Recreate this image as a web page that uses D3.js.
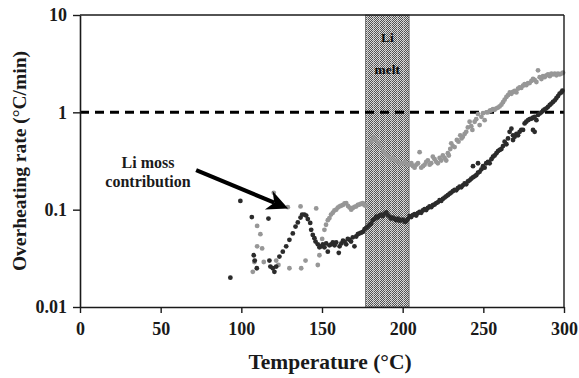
<!DOCTYPE html>
<html>
<head>
<meta charset="utf-8">
<script src="https://cdn.jsdelivr.net/npm/d3@7"></script>
<style>
  body { margin: 0; background: #fff; }
  text { font-family: "Liberation Serif", "Times New Roman", serif; font-weight: bold; fill: #1a1a1a; }
</style>
</head>
<body>
<div id="container"></div>
<script>
// tick values
var xTicks = [0, 50, 100, 150, 200, 250, 300];
var yTicks = [0.01, 0.1, 1, 10];
var yTickLabels = ["0.01", "0.1", "1", "10"];

// Li melt band (°C)
var meltRange = [177, 204];

// dark series: temperature (°C), overheating rate (°C/min)
var darkT = [93.2, 99.4, 106.5, 107.7, 108.3, 109.6, 116.8, 117.4, 118, 119.5, 120.5, 121.6,
  123.6, 125.7, 127.8, 129.8, 131.9, 133.6, 135, 136.7, 137.7, 139.1, 140.2, 141.2, 142.7, 143.3,
  144.3, 145.3, 146, 147.4, 148.4, 149.5, 150.5, 151.5, 152.6, 153.6, 154.6, 155.7, 156.7, 157.8,
  158.8, 160.4, 160.9, 162, 163, 164, 165, 166, 167, 168, 169.1, 170.1, 171.2, 172.2, 173.2, 174.3,
  175.3, 176.4, 177.4, 178.4, 179.5, 180.5, 181.5, 182.6, 183.6, 184.6, 185.7, 186.7, 187.7, 188.8,
  189.8, 190.8, 191.9, 192.9, 193.9, 195, 196, 197, 198, 199.1, 200.1, 201.2, 202.2, 203.2, 204.3,
  205.3, 206.3, 207.4, 208.4, 209.4, 210.5, 211.5, 212.5, 213.6, 214.6, 215.6, 216.7, 217.7, 218.7,
  219.8, 220.8, 221.8, 222.9, 223.9, 224.9, 226, 227, 228, 229.1, 230.1, 231.1, 232.2, 233.2, 234.2,
  235.3, 236.3, 237.3, 238.4, 239.4, 240.4, 241.5, 242.5, 243.6, 244.6, 245.6, 246.7, 247.7, 248.8,
  249.8, 250.8, 251.8, 252.9, 253.9, 255, 256, 257, 258.1, 259.1, 260.1, 261.2, 262.2, 263.2, 264.3,
  265.3, 266.3, 267.4, 268.4, 269.4, 270.5, 271.5, 272.5, 273.5, 274.6, 275.6, 276.6, 277.7, 278.7,
  279.8, 280.8, 281.8, 282.9, 283.9, 284.9, 286, 287, 288, 289.1, 290.1, 291.2, 292.2, 293.2, 294.3,
  295.3, 296.3, 297.3, 298.4, 299, 280.8, 281.8, 268.4, 243.6, 246.7];
var darkV = [0.020, 0.123, 0.084, 0.034, 0.030, 0.025, 0.081, 0.030, 0.026, 0.025, 0.023, 0.026,
  0.033, 0.037, 0.042, 0.049, 0.057, 0.067, 0.074, 0.083, 0.089, 0.089, 0.087, 0.080, 0.073, 0.062,
  0.055, 0.051, 0.047, 0.044, 0.041, 0.042, 0.044, 0.041, 0.045, 0.037, 0.043, 0.044, 0.046, 0.043,
  0.046, 0.036, 0.042, 0.045, 0.048, 0.047, 0.044, 0.050, 0.049, 0.047, 0.052, 0.042, 0.053, 0.056, 0.057, 0.058,
  0.059, 0.063, 0.065, 0.067, 0.070, 0.072, 0.078, 0.080, 0.085, 0.083, 0.087, 0.089, 0.086, 0.091,
  0.094, 0.088, 0.085, 0.081, 0.083, 0.080, 0.078, 0.081, 0.077, 0.078, 0.079, 0.075, 0.076, 0.080, 0.086,
  0.084, 0.088, 0.090, 0.087, 0.092, 0.095, 0.093, 0.098, 0.101, 0.099, 0.104, 0.108, 0.106, 0.111,
  0.113, 0.117, 0.119, 0.125, 0.123, 0.129, 0.133, 0.137, 0.141, 0.146, 0.150, 0.155, 0.160, 0.158, 0.166,
  0.172, 0.170, 0.178, 0.186, 0.182, 0.195, 0.200, 0.208, 0.215, 0.220, 0.226, 0.240, 0.245, 0.26,
  0.28, 0.27, 0.30, 0.31, 0.30, 0.33, 0.35, 0.36, 0.38, 0.40, 0.41, 0.42, 0.45, 0.50, 0.47,
  0.54, 0.63, 0.68, 0.58, 0.56, 0.60, 0.58, 0.63, 0.66, 0.66, 0.77, 0.80, 0.83, 0.85,
  0.86, 0.88, 0.90, 0.83, 0.94, 0.97, 1.00, 1.04, 1.07, 1.10, 1.14, 1.19, 1.23, 1.28, 1.33,
  1.40, 1.47, 1.56, 1.60, 1.67, 0.66, 0.63, 0.52, 0.28, 0.30];

// gray series
var grayT = [107.1, 108.1, 109.8, 109.8, 111.8, 112.9, 113.9, 120.1, 121.6, 123, 128.8, 129.8,
  136.7, 137.1, 139.8, 146.4, 147.4, 148.4, 150.1, 151.5, 152.5, 153.6, 154.6, 155.6, 156.7, 157.7,
  158.8, 159.8, 160.9, 161.9, 163, 164, 165, 166.1, 167.1, 168.1, 169.1, 170.2, 171.2, 172.2, 173.3,
  174.3, 175.3, 176.3, 177.4, 179, 180.5, 182, 183.5, 185, 186.5, 188, 189.5, 191, 192.5, 194, 195.5,
  197, 198.5, 200.2, 201.5, 203, 204.3, 205.4, 206.4, 207.4, 208.5, 209.5, 210.5, 211.5, 212.6, 213.6,
  214.6, 215.6, 216.7, 217.7, 218.7, 219.8, 220.8, 221.8, 222.9, 223.9, 224.9, 226, 227, 228, 228.6,
  229.5, 230.1, 231.1, 232.2, 233.6, 234.6, 235.7, 236.5, 237.3, 238.4, 239.4, 240.4, 241.5, 242.5,
  243.2, 244.6, 245.6, 246.7, 247.7, 248.8, 249.8, 250.8, 251.9, 252.9, 254, 255, 256, 257, 258.1,
  259.1, 260.1, 261.2, 262.2, 263.2, 264.3, 265.3, 266.4, 267.4, 268.4, 269.4, 270.5, 271.5, 272.5,
  273.5, 274.6, 275.6, 276.6, 277.7, 278.7, 279.8, 280.8, 281.8, 282.9, 283.9, 284.9, 286, 287, 288,
  289.1, 290.1, 291.2, 292.2, 293.2, 294.3, 295.3, 296.3, 297.3, 298.4, 299.4];
var grayV = [0.023, 0.029, 0.042, 0.068, 0.056, 0.040, 0.029, 0.149, 0.030, 0.027, 0.106, 0.025,
  0.108, 0.025, 0.030, 0.103, 0.027, 0.034, 0.050, 0.062, 0.070, 0.078, 0.082, 0.089, 0.093, 0.098,
  0.100, 0.105, 0.108, 0.110, 0.112, 0.116, 0.117, 0.109, 0.105, 0.100, 0.104, 0.107, 0.108, 0.112, 0.113,
  0.115, 0.117, 0.111, 0.110, 0.42, 0.50, 0.55, 0.52, 0.48, 0.45, 0.40, 0.37, 0.35, 0.33, 0.34, 0.32,
  0.31, 0.30, 0.30, 0.31, 0.29, 0.29, 0.30, 0.28, 0.27, 0.29, 0.30, 0.39, 0.27, 0.28, 0.29,
  0.31, 0.32, 0.29, 0.30, 0.35, 0.33, 0.31, 0.30, 0.34, 0.32, 0.36, 0.34, 0.32, 0.38, 0.36,
  0.42, 0.48, 0.45, 0.44, 0.52, 0.50, 0.58, 0.54, 0.56, 0.60, 0.63, 0.70, 0.80, 0.72,
  0.66, 0.80, 0.85, 0.96, 0.74, 0.90, 0.98, 0.83, 1.00, 1.00, 1.04, 1.05, 1.08, 1.06, 1.10,
  1.12, 1.15, 1.20, 1.27, 1.35, 1.44, 1.50, 1.60, 1.55, 1.62, 1.66, 1.60, 1.75, 1.80,
  1.78, 1.88, 1.95, 1.90, 2.00, 2.00, 2.10, 2.20, 2.15, 2.05, 2.70, 2.30, 2.20, 2.35, 2.30,
  2.40, 2.45, 2.35, 2.50, 2.45, 2.50, 2.40, 2.50, 2.45, 2.50, 2.55];

// annotation arrow, in data units: [tail, tip]
var arrowT = [72, 129];
var arrowV = [0.255, 0.103];

var width = 579, height = 378;
var margin = {top: 15, right: 15, bottom: 71, left: 80};
var w = width - margin.left - margin.right;
var h = height - margin.top - margin.bottom;

var x = d3.scaleLinear().domain([0, 300]).range([0, w]);
var y = d3.scaleLog().domain([0.01, 10]).range([h, 0]);

var svg = d3.select("#container").append("svg")
    .attr("width", width)
    .attr("height", height);

var defs = svg.append("defs");
var pat = defs.append("pattern")
    .attr("id", "dither")
    .attr("patternUnits", "userSpaceOnUse")
    .attr("width", 6).attr("height", 2);
pat.append("rect").attr("width", 6).attr("height", 2).attr("fill", "#dadada");
[0, 2, 4].forEach(function(i) {
    pat.append("rect").attr("x", i).attr("y", 0).attr("width", 1).attr("height", 1).attr("fill", "#525252");
    pat.append("rect").attr("x", i + 1).attr("y", 1).attr("width", 1).attr("height", 1).attr("fill", "#525252");
});
pat.append("rect").attr("x", 5).attr("y", 0).attr("width", 1).attr("height", 2).attr("fill", "#e6e6e6").attr("opacity", 0.35);

var g = svg.append("g")
    .attr("transform", "translate(" + margin.left + "," + margin.top + ")");

// melt band
g.append("rect")
    .attr("x", x(meltRange[0]))
    .attr("y", 0)
    .attr("width", x(meltRange[1]) - x(meltRange[0]))
    .attr("height", h)
    .attr("fill", "url(#dither)")
    .attr("stroke", "#666")
    .attr("stroke-width", 0.8);

g.append("text").attr("x", x(d3.mean(meltRange))).attr("y", 27)
    .attr("text-anchor", "middle").style("font-size", "13.5px").style("fill", "#0a0a0a").text("Li");
g.append("text").attr("x", x(d3.mean(meltRange))).attr("y", 59)
    .attr("text-anchor", "middle").style("font-size", "13.5px").style("fill", "#0a0a0a").text("melt");

// 1 °C/min reference
g.append("line")
    .attr("x1", 0).attr("x2", w)
    .attr("y1", y(1)).attr("y2", y(1))
    .attr("stroke", "#000")
    .attr("stroke-width", 3)
    .attr("stroke-dasharray", "9,6");

var dark = darkT.map(function(t, i) { return {t: t, v: darkV[i]}; });
var gray = grayT.map(function(t, i) { return {t: t, v: grayV[i]}; });

g.selectAll(".gray").data(gray).enter().append("circle")
    .attr("class", "gray")
    .attr("r", 2.4)
    .attr("cx", function(d) { return x(d.t); })
    .attr("cy", function(d) { return y(d.v); })
    .attr("fill", "#979797");

g.selectAll(".dark").data(dark).enter().append("circle")
    .attr("class", "dark")
    .attr("r", 2.4)
    .attr("cx", function(d) { return x(d.t); })
    .attr("cy", function(d) { return y(d.v); })
    .attr("fill", "#2b2b2b");

// axes
var xAxis = d3.axisBottom(x).tickValues(xTicks).tickSize(6).tickSizeOuter(0);
var yAxis = d3.axisLeft(y).tickValues(yTicks)
    .tickFormat(function(d, i) { return yTickLabels[i]; })
    .tickSize(7).tickSizeOuter(0);

var gx = g.append("g").attr("transform", "translate(0," + h + ")").call(xAxis);
var gy = g.append("g").call(yAxis);
[gx, gy].forEach(function(a) {
    a.select(".domain").attr("stroke", "#1a1a1a").attr("stroke-width", 1.6);
    a.selectAll(".tick line").attr("stroke", "#1a1a1a").attr("stroke-width", 1.4);
    a.selectAll("text").attr("fill", "#1a1a1a").style("font-size", "18px")
        .style("font-family", "'Liberation Serif', serif").style("font-weight", "bold");
});
gx.selectAll("text").attr("dy", "1.05em").attr("y", 9);
gy.selectAll("text").attr("x", -13);

// box top/right
g.append("line").attr("x1", 0).attr("x2", w).attr("y1", 0).attr("y2", 0)
    .attr("stroke", "#1a1a1a").attr("stroke-width", 1.6);
g.append("line").attr("x1", w).attr("x2", w).attr("y1", 0).attr("y2", h)
    .attr("stroke", "#1a1a1a").attr("stroke-width", 1.4);

// annotation arrow with a barbed head
var ax0 = x(arrowT[0]), ay0 = y(arrowV[0]);
var ax1 = x(arrowT[1]), ay1 = y(arrowV[1]);
var ang = Math.atan2(ay1 - ay0, ax1 - ax0);
var headLen = 21, headHalf = 10, back = 15;
function pt(dl, dn) {
    return [ax1 + Math.cos(ang) * dl - Math.sin(ang) * dn,
            ay1 + Math.sin(ang) * dl + Math.cos(ang) * dn];
}
g.append("line")
    .attr("x1", ax0).attr("y1", ay0)
    .attr("x2", pt(-back, 0)[0]).attr("y2", pt(-back, 0)[1])
    .attr("stroke", "#000").attr("stroke-width", 4.2);
g.append("path")
    .attr("d", d3.line()([pt(0, 0), pt(-headLen, headHalf), pt(-back, 0), pt(-headLen, -headHalf)]) + "Z")
    .attr("fill", "#000");

g.append("text").attr("x", 68).attr("y", 153).attr("text-anchor", "middle")
    .style("font-size", "16px").text("Li moss");
g.append("text").attr("x", 68).attr("y", 172).attr("text-anchor", "middle")
    .style("font-size", "16px").text("contribution");

// axis titles
svg.append("text")
    .attr("x", 330).attr("y", 369)
    .attr("text-anchor", "middle")
    .style("font-size", "21.5px")
    .text("Temperature (°C)");

svg.append("text")
    .attr("transform", "translate(26," + (margin.top + 146) + ") rotate(-90)")
    .attr("text-anchor", "middle")
    .style("font-size", "19.5px")
    .text("Overheating rate (°C/min)");
</script>
</body>
</html>
